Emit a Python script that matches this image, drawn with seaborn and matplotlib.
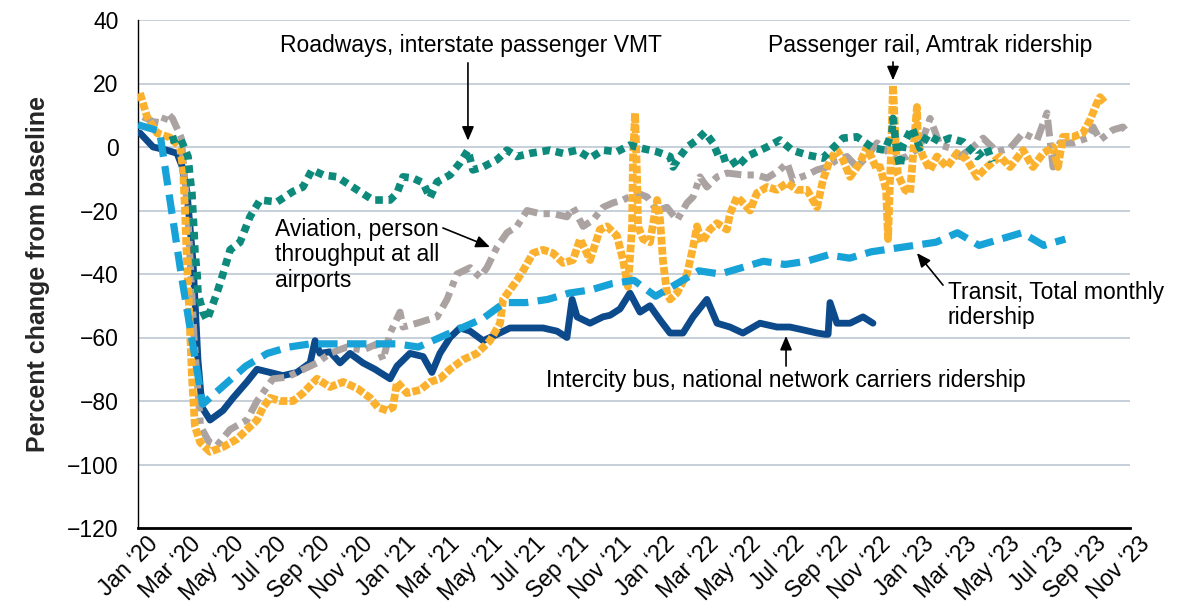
import matplotlib
matplotlib.use("Agg")
import matplotlib.pyplot as plt
import matplotlib.transforms as mtransforms
import seaborn as sns

# x positions are months since January 2020
month_ticks = list(range(0, 47, 2))
tick_labels = ["Jan \u201820", "Mar \u201820", "May \u201820", "Jul \u201820", "Sep \u201820", "Nov \u201820",
               "Jan \u201821", "Mar \u201821", "May \u201821", "Jul \u201821", "Sep \u201821", "Nov \u201821",
               "Jan \u201822", "Mar \u201822", "May \u201822", "Jul \u201822", "Sep \u201822", "Nov \u201822",
               "Jan \u201823", "Mar \u201823", "May \u201823", "Jul \u201823", "Sep \u201823", "Nov \u201823"]

bus_x = [0.09, 0.7, 1.34, 1.81, 2.04, 2.27, 2.55, 2.78, 2.97, 3.34, 3.94, 4.41, 5.05, 5.52, 6.12, 6.72,
         7.37, 7.98, 8.21, 8.44, 8.90, 9.37, 9.83, 10.43, 10.99, 11.22, 11.69, 12.01, 12.61, 13.22,
         13.63, 14.00, 14.47, 14.93, 15.40, 16.00, 16.65, 17.25, 18.04, 18.78, 19.43, 19.89, 20.13,
         20.36, 20.96, 21.56, 21.89, 22.35, 22.81, 23.28, 23.74, 24.21, 24.67, 25.27, 25.74, 26.38,
         26.85, 27.45, 28.05, 28.84, 29.63, 30.23, 30.84, 31.49, 31.86, 32.0, 32.09, 32.41, 33.02,
         33.62, 34.08]
bus_y = [4.4, 0, -1, -2, -6, -14, -36, -67, -82, -86, -83, -79, -74, -70, -71, -72,
         -71, -68, -61, -65, -64.5, -68, -65, -68, -70, -71, -73, -69, -65, -66,
         -71, -65, -60, -57, -58, -61, -59, -57, -57, -57, -58, -60, -48,
         -53.5, -55.5, -53.5, -53, -51, -46, -52, -50, -54.5, -58.6, -58.6, -53.5, -48,
         -55.5, -56.7, -58.6, -55.5, -56.7, -56.7, -57.6, -58.6, -59, -59, -49, -55.5, -55.5,
         -53.5, -55.5]

transit_x = list(range(0, 44))
transit_y = [7, 5, -40, -81, -75, -69, -65, -63, -62, -62, -62, -62,
             -62, -63, -60, -57, -54, -49, -49, -48, -46, -45, -43, -42,
             -47, -43, -39, -40, -38, -36, -37, -36, -34, -35, -33, -32,
             -31, -30, -27, -31, -29, -27, -31, -29]

amtrak_x = [0.09, 0.42, 0.88, 1.48, 1.95, 2.09, 2.18, 2.27, 2.41, 2.50, 2.64, 2.88, 3.34, 3.94, 4.59,
            5.05, 5.52, 5.80, 6.12, 6.58, 7.19, 7.65, 8.30, 8.90, 9.51, 10.16, 10.76, 11.13, 11.55,
            11.82, 12.01, 12.47, 13.08, 13.54, 14.00, 14.47, 15.07, 15.72, 16.32, 16.79, 16.93, 17.25,
            17.57, 17.85, 18.32, 18.78, 19.24, 19.71, 20.17, 20.50, 20.96, 21.42, 21.75, 22.21, 22.49,
            22.72, 22.91, 22.95, 23.05, 23.14, 23.19, 23.42, 23.74, 24.07, 24.21, 24.34, 24.53, 24.67,
            24.99, 25.46, 25.74, 25.92, 26.15, 26.52, 26.85, 27.31, 27.45, 27.78, 28.05, 28.38, 28.70,
            29.17, 29.63, 30.10, 30.56, 31.02, 31.49, 31.76, 32.09, 32.41, 32.69, 33.02, 33.48, 33.80,
            34.27, 34.41, 34.69, 34.78, 34.92, 35.01, 35.15, 35.24, 35.57, 35.80, 36.12, 36.17, 36.40,
            36.73, 37.05, 37.51, 37.98, 38.44, 38.91, 39.37, 39.97, 40.44, 41.04, 41.50, 41.97, 42.43,
            42.66, 42.89, 43.36, 43.82, 44.15, 44.47, 44.61, 44.84]
amtrak_y = [17, 9.5, 4.4, 3, 0, -7, -20, -36, -57, -72, -88, -93, -96, -94.5, -92,
            -89, -86, -82, -79, -80, -80, -77.5, -73, -75.6, -74, -76, -79, -82, -83,
            -82, -74, -77.5, -76.5, -74, -73, -70, -67, -65, -61, -55.5, -48, -45,
            -42, -39, -33.4, -32.4, -33.4, -36.5, -35.6, -29, -35.6, -26, -25, -28, -35.6,
            -44, -25, -4, 10.7, -9.4, -25, -29, -30, -16.7, -23, -35.6, -46, -48,
            -46, -40, -31.5, -25, -30, -26, -24, -26, -21, -15.7, -17.6, -20, -14.5,
            -12.6, -13.5, -11.3, -13.5, -13.5, -19, -10.4, -4, -1, -4, -9.4, -5, 0,
            -7.2, -6.3, -13.5, -29, -1, 19.5, -1, -8.8, -13.5, -14.5, 12.6, 1.3, -3,
            -7.2, -3, -6.3, -2, -4, -9.4, -6.3, -3, -6.3, -1, -6.3, -2, 0,
            -6.3, 3.2, 3.2, 4.4, 8.5, 13.9, 15.7, 13.9]

road_x = [1.48, 1.95, 2.32, 2.41, 2.50, 2.55, 2.60, 2.64, 2.74, 2.78, 3.01, 3.20, 3.66, 3.94, 4.27,
          4.73, 5.19, 5.66, 6.45, 7.19, 7.65, 8.07, 8.58, 9.23, 10.16, 10.90, 11.22, 11.69, 12.01,
          12.29, 12.75, 13.22, 13.54, 13.87, 14.47, 14.93, 15.30, 15.53, 16.00, 16.65, 17.11, 17.57,
          18.18, 19.10, 19.71, 20.36, 20.96, 21.56, 22.21, 22.81, 23.28, 24.07, 24.67, 24.81, 25.13,
          25.46, 25.92, 26.29, 26.66, 26.99, 27.45, 27.78, 28.24, 28.70, 29.17, 29.77, 30.33, 31.02,
          31.76, 32.23, 32.69, 33.34, 34.08, 34.64, 34.96, 35.01, 35.20, 35.34, 35.47, 35.89, 36.26,
          36.63, 37.19, 37.65, 38.26, 38.91, 39.37, 39.60]
road_y = [2, 3, -3, -9.4, -14.5, -21, -27, -33, -40, -46, -52, -54.5, -46, -40, -32.4,
          -30, -22, -16.7, -17.3, -14, -12.6, -7.2, -8.8, -9.4, -13.5, -16.7, -16.7, -16.7, -14.5,
          -9.4, -9.8, -11.3, -16, -11, -8.8, -5, -1, -7.2, -6.3, -4, -1, -3,
          -2, -1, -2, -1, -3.5, -1, -1.5, 0.6, -0.3, -1.5, -3, -6.3, -3,
          0, 2.2, 4.7, 1.3, -4, -3, -6.3, -3, -1.5, 0, 2.2, -1, -2.5,
          -3.5, -0.3, 2.8, 3.2, -0.3, -1, 4.7, 9, -2, -6.3, 0.6, 6, -0.3,
          3.8, 1.6, 2.8, 1.6, -3, -0.3, -4.7]

air_x = [0.23, 0.70, 1.16, 1.34, 1.60, 2.00, 2.30, 2.60, 2.90, 3.30, 3.66, 4.27, 5.05, 5.52, 6.26,
         6.91, 8.30, 8.90, 9.69, 10.43, 11.08, 11.36, 11.69, 12.15, 12.29, 12.93, 13.40, 13.87, 14.33,
         14.79, 15.40, 15.86, 16.18, 16.65, 17.11, 17.57, 18.04, 18.64, 19.24, 19.89, 20.17, 20.64,
         21.10, 21.56, 22.02, 22.49, 23.14, 23.60, 24.07, 24.53, 25.00, 25.46, 25.74, 26.06, 26.38,
         26.85, 27.31, 28.05, 28.70, 29.17, 29.77, 30.10, 30.37, 31.02, 31.49, 31.95, 32.41, 32.88,
         33.34, 33.80, 34.27, 35.20, 35.66, 36.26, 36.73, 37.19, 37.65, 38.12, 38.72, 39.19, 39.83,
         40.44, 41.04, 41.69, 42.15, 42.43, 42.75, 43.36, 44.01, 44.29, 44.61, 45.21, 45.67, 45.86]
air_y = [9.5, 8, 7.5, 10.7, 9, 3, -20, -60, -88, -93, -94, -89, -86, -80, -73,
         -72.5, -68, -65, -63, -64, -62, -67, -58.6, -52, -56.7, -55.5, -54.5, -53.5, -48,
         -40, -38, -41, -38, -31.5, -27, -25, -20, -21, -21, -22, -19, -25,
         -23, -19, -17.6, -16.7, -14.5, -15.7, -20, -19, -23, -17.6, -15.7, -9.4, -12.6,
         -9.4, -8.2, -8.8, -8.8, -9.8, -7.2, -5, -10.4, -8.8, -7.2, -6.3, -4, -3,
         -6.3, -3, 1.3, -4, -3, 0, 9, 0.6, -0.3, -3, 0, 2.8, -1.5,
         -0.3, 4.4, 2.2, 10.7, -6.3, 1.3, 1.3, 2.8, 6.3, 2.2, 5.4, 6.3, 4.7]

sns.set_theme(style="white")
plt.rcParams["font.family"] = ["Liberation Sans", "DejaVu Sans"]
plt.rcParams["axes.unicode_minus"] = True

fig = plt.figure(figsize=(11.79, 6.10), dpi=100)
ax = fig.add_axes([138 / 1179, 82 / 610, 992 / 1179, 508 / 610])

common = dict(ax=ax, estimator=None, sort=False, legend=False)
sns.lineplot(x=bus_x, y=bus_y, color="#0d4a8b", linewidth=4.9,
             solid_joinstyle="round", solid_capstyle="round", zorder=3, **common)
sns.lineplot(x=air_x, y=air_y, color="#aba3a1", linewidth=5.0,
             linestyle=(0, (2.4, 0.9, 0.9, 0.9)), dash_capstyle="butt", zorder=4, **common)
sns.lineplot(x=amtrak_x, y=amtrak_y, color="#fbb12d", linewidth=5.6,
             linestyle=(0, (1.0, 0.3)), dash_capstyle="butt", zorder=5, **common)
sns.lineplot(x=road_x, y=road_y, color="#0d8a7c", linewidth=5.5,
             linestyle=(0, (1.0, 0.75)), dash_capstyle="butt", zorder=6, **common)
sns.lineplot(x=transit_x, y=transit_y, color="#17a2d8", linewidth=5.2,
             linestyle=(0, (2.7, 1.3)), dash_capstyle="butt", zorder=7, **common)

ax.set_xlim(0, 46)
ax.set_ylim(-120, 40)
ax.set_yticks(range(-120, 41, 20))
ax.yaxis.grid(True, color="#c3ccd6", linewidth=1.3)
ax.xaxis.grid(False)
ax.set_axisbelow(True)

for side in ("top", "right"):
    ax.spines[side].set_visible(False)
ax.spines["left"].set_color("black")
ax.spines["left"].set_linewidth(1.0)
ax.spines["bottom"].set_color("black")
ax.spines["bottom"].set_linewidth(2.0)

ax.tick_params(axis="y", length=0, pad=14, labelsize=16.5, labelcolor="black")
ax.tick_params(axis="x", direction="in", length=8, width=1.3, color="black",
               pad=6, labelsize=16.5, labelcolor="black")
ax.set_xticks(month_ticks)
ax.set_xticklabels(tick_labels, rotation=45, ha="right", rotation_mode="anchor", va="center")
shift = mtransforms.ScaledTranslation(16 / 100, -4 / 100, fig.dpi_scale_trans)
for lab in ax.get_xticklabels():
    lab.set_transform(lab.get_transform() + shift)

ax.set_xlabel("")
ax.set_ylabel("Percent change from baseline", fontsize=18, fontweight="bold", labelpad=12)

text_kw = dict(fontsize=16.5, color="black")
arrow_kw = dict(arrowstyle="-|>,head_length=0.7,head_width=0.3", color="black", lw=1.2,
                shrinkA=0, shrinkB=0)

ax.text(15.44, 32.1, "Roadways, interstate passenger VMT", ha="center", va="center", **text_kw)
ax.annotate("", xy=(15.3, 2.0), xytext=(15.3, 26.5), arrowprops=arrow_kw)

ax.text(36.73, 32.1, "Passenger rail, Amtrak ridership", ha="center", va="center", **text_kw)
ax.annotate("", xy=(35.01, 21.0), xytext=(35.01, 26.8), arrowprops=arrow_kw)

ax.text(6.35, -34.0, "Aviation, person\nthroughput at all\nairports", ha="left", va="center",
        linespacing=1.15, **text_kw)
ax.annotate("", xy=(16.32, -31.5), xytext=(14.14, -25.5), arrowprops=arrow_kw)

ax.text(37.56, -49.8, "Transit, Total monthly\nridership", ha="left", va="center",
        linespacing=1.15, **text_kw)
ax.annotate("", xy=(36.12, -33.4), xytext=(37.33, -43.5), arrowprops=arrow_kw)

ax.text(30.05, -73.4, "Intercity bus, national network carriers ridership", ha="center",
        va="center", **text_kw)
ax.annotate("", xy=(30.05, -59.5), xytext=(30.05, -69.0), arrowprops=arrow_kw)

fig.savefig("out.png", dpi=100)
